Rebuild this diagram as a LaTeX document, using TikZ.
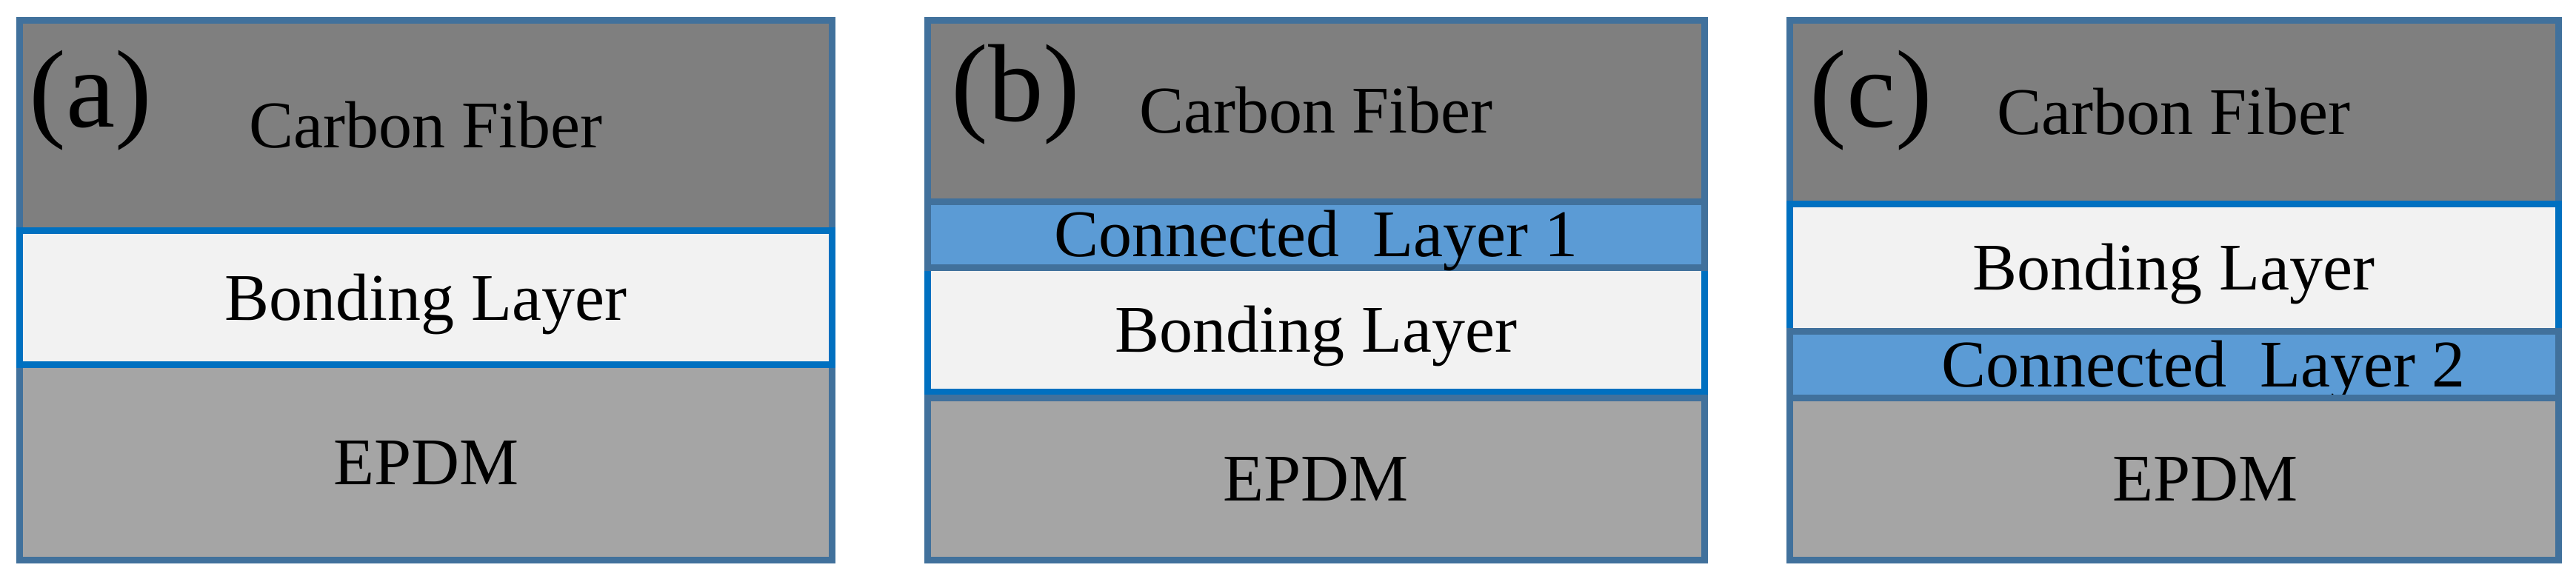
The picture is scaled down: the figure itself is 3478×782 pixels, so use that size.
\documentclass[tikz,border=0pt]{standalone}
\usepackage{fontspec}
\setmainfont{Liberation Serif}
\usetikzlibrary{positioning}
\definecolor{fibergray}{HTML}{7F7F7F}
\definecolor{bondwhite}{HTML}{F2F2F2}
\definecolor{epdmgray}{HTML}{A5A5A5}
\definecolor{connblue}{HTML}{5B9BD5}
\definecolor{edgeslate}{HTML}{41719C}
\definecolor{edgeblue}{HTML}{0070C0}

\tikzset{
    layer/.style={draw=edgeslate, line width=0.09cm,
        inner sep=0pt, outer sep=0pt,
        font=\fontsize{25.6}{30}\selectfont,
        text height=0.596cm, text depth=0pt},
    fiber/.style={layer, fill=fibergray},
    bonding/.style={layer, fill=bondwhite, draw=edgeblue},
    connected/.style={layer, fill=connblue},
    epdm/.style={layer, fill=epdmgray},
    tag/.style={anchor=base west, inner sep=0pt,
        font=\fontsize{42.4}{50}\selectfont}
}

\begin{document}
\begin{tikzpicture}[x=0.01cm, y=-0.01cm]
    \useasboundingbox (0,0) rectangle (3478,782);

    % panel (a)
    \node [fiber,
        minimum width=10.965cm,
        minimum height=2.84cm,
        anchor=north west
    ] (fibA) at (26.5,27.5) {Carbon Fiber};

    \node [epdm,
        minimum width=10.965cm,
        minimum height=2.64cm,
        below=1.81cm of fibA
    ] (epdmA) {EPDM};

    \node [bonding,
        minimum width=10.965cm,
        minimum height=1.81cm,
        below=0pt of fibA
    ] (bondA) {Bonding Layer};

    % panel (b)
    \node [fiber,
        minimum width=10.49cm,
        minimum height=2.45cm,
        anchor=north west
    ] (fibB) at (1252,27.5) {Carbon Fiber};

    \node [bonding,
        minimum width=10.49cm,
        minimum height=1.675cm,
        below=0.89cm of fibB
    ] (bondB) {Bonding Layer};

    \node [connected,
        minimum width=10.49cm,
        minimum height=0.89cm,
        below=0pt of fibB
    ] (connB) {Connected\ \ Layer 1};

    \node [epdm,
        minimum width=10.49cm,
        minimum height=2.195cm,
        below=0.08cm of bondB
    ] (epdmB) {EPDM};

    % panel (c)
    \node [fiber,
        minimum width=10.375cm,
        minimum height=2.48cm,
        anchor=north west
    ] (fibC) at (2416,27.5) {Carbon Fiber};

    \node [bonding,
        minimum width=10.375cm,
        minimum height=1.72cm,
        below=0pt of fibC
    ] (bondC) {Bonding Layer};

    \node [connected,
        minimum width=10.375cm,
        minimum height=0.895cm,
        below=0pt of bondC
    ] (connC) {\hspace*{0.8cm}Connected\ \ Layer 2};

    \node [epdm,
        minimum width=10.375cm,
        minimum height=2.195cm,
        below=0pt of connC
    ] (epdmC) {\hspace*{0.84cm}EPDM};

    % panel tags
    \node [tag] (tagA) at (39,172) {(a)};
    \node [tag] (tagB) at (1284,164) {(b)};
    \node [tag] (tagC) at (2443,172) {(c)};

\end{tikzpicture}
\end{document}
